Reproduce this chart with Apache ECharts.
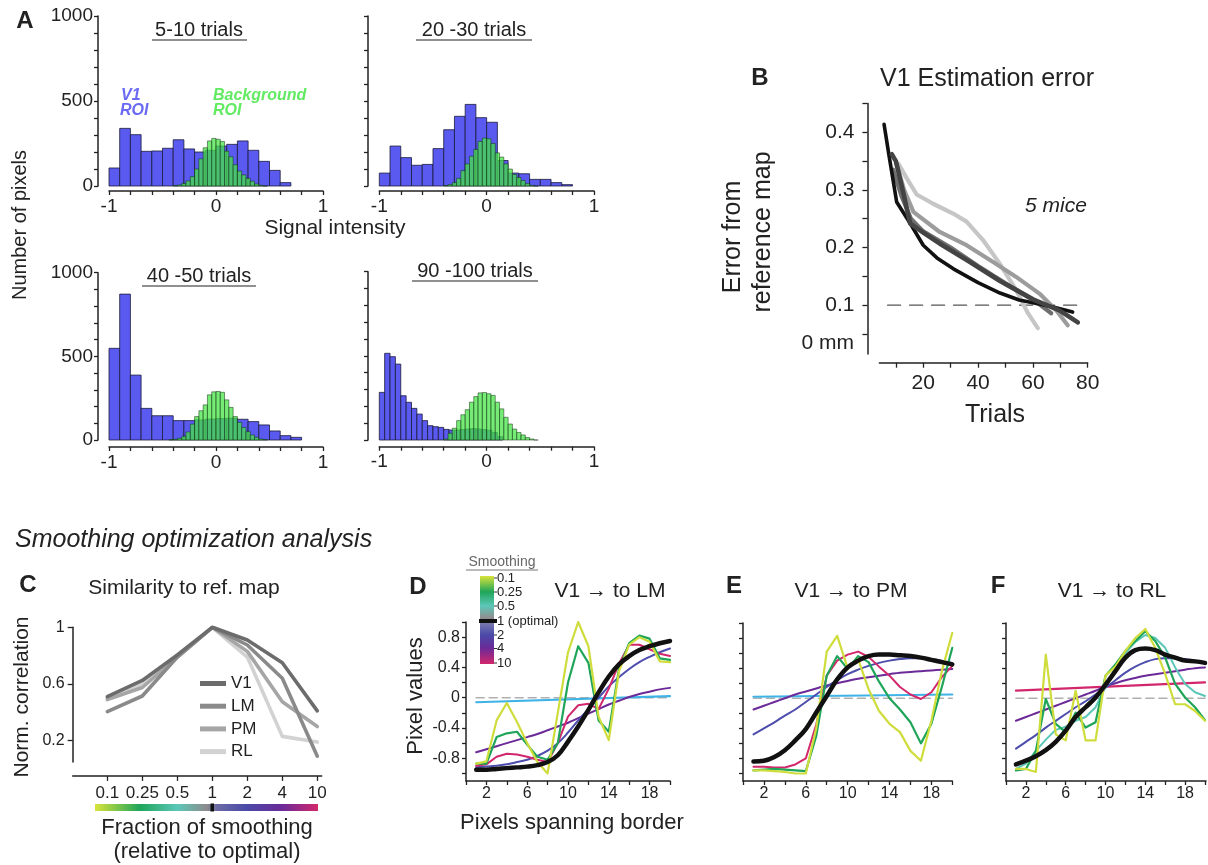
<!doctype html>
<html lang="en">
<head>
<meta charset="utf-8">
<title>Map estimation and smoothing optimization</title>
<script src="https://cdn.jsdelivr.net/npm/echarts@6/dist/echarts.min.js"></script>
<style>
  html, body { margin: 0; padding: 0; background: #fff; }
  #main { width: 1208px; height: 865px; }
</style>
</head>
<body>
<div id="main"></div>
<script>
// ---- data ----
// A: histograms (bin start, bin width, counts)
var blueStart = -1, blueWidth = 0.1;
var greenWidth = 0.04;
var v1Trials5to10 = [106, 339, 302, 204, 206, 222, 272, 218, 200, 210, 235, 245, 265, 210, 145, 92, 20];
var bgTrials5to10 = [2, 6, 15, 30, 55, 100, 160, 225, 265, 280, 275, 262, 205, 172, 125, 88, 65, 45, 28, 12, 4, 0];
var v1Trials20to30 = [76, 235, 167, 122, 127, 220, 331, 410, 480, 402, 375, 150, 76, 72, 39, 39, 20, 8];
var bgTrials20to30 = [3, 8, 20, 45, 90, 130, 175, 215, 262, 282, 278, 250, 195, 170, 130, 100, 68, 50, 32, 14, 4, 0];
var v1Trials40to50 = [548, 872, 388, 189, 145, 145, 116, 116, 120, 125, 128, 130, 124, 110, 90, 54, 26, 16];
var bgTrials40to50 = [2, 4, 10, 22, 48, 95, 140, 175, 210, 270, 288, 290, 285, 240, 195, 140, 105, 75, 50, 30, 16, 6, 2];
var v1Trials90to100 = [283, 515, 495, 451, 263, 224, 188, 154, 115, 85, 79, 75, 63, 59, 59, 62, 65, 68, 65, 62, 58, 45, 20];
var bgTrials90to100 = [5, 40, 70, 115, 150, 180, 225, 258, 280, 282, 275, 265, 225, 185, 135, 95, 65, 45, 30, 15, 6, 0];

// B: estimation error per mouse
var mouse1Trials = [5.7, 7.5, 10.3, 15.2, 20, 25, 31, 40, 48, 55, 60, 67, 74.5];
var mouse1Error = [0.414, 0.36, 0.279, 0.242, 0.204, 0.182, 0.163, 0.139, 0.121, 0.109, 0.104, 0.097, 0.088];
var mouse2Trials = [8.5, 10, 12.5, 15.2, 20, 27, 36, 48, 60, 69.7, 76.4];
var mouse2Error = [0.362, 0.35, 0.3, 0.242, 0.226, 0.204, 0.178, 0.142, 0.11, 0.091, 0.07];
var mouse3Trials = [9, 12, 15.5, 20, 30, 40, 50, 60, 66.7];
var mouse3Error = [0.335, 0.29, 0.25, 0.228, 0.2, 0.168, 0.138, 0.11, 0.086];
var mouse4Trials = [10.3, 13, 16.4, 26, 35.8, 45.5, 53.9, 62.4, 68.5, 72.7];
var mouse4Error = [0.345, 0.3, 0.262, 0.227, 0.204, 0.175, 0.149, 0.12, 0.091, 0.065];
var mouse5Trials = [11, 14, 17.6, 23.6, 30.9, 35.8, 41.8, 47.9, 53.9, 58.2, 61.8];
var mouse5Error = [0.345, 0.32, 0.292, 0.276, 0.259, 0.245, 0.213, 0.172, 0.126, 0.086, 0.06];
var refTrials = [7, 79];
var refError = [0.1, 0.1];

// C: similarity to reference map
var smoothCats = ['0.1', '0.25', '0.5', '1', '2', '4', '10'];
var simV1 = [0.51, 0.625, 0.805, 1.0, 0.91, 0.75, 0.41];
var simLM = [0.405, 0.515, 0.79, 1.0, 0.875, 0.64, 0.09];
var simPM = [0.49, 0.575, 0.79, 1.0, 0.83, 0.475, 0.3];
var simRL = [0.5, 0.6, 0.8, 1.0, 0.79, 0.23, 0.19];

// D-F: pixel values across the border
var pixelX = [1, 2, 3, 4, 5, 6, 7, 8, 9, 10, 11, 12, 13, 14, 15, 16, 17, 18, 19, 20];
var lmS01 = [-0.87, -0.84, -0.3, -0.07, -0.32, -0.6, -0.85, -1.0, -0.2, 0.6, 1.0, 0.68, -0.25, -0.56, 0.35, 0.7, 0.8, 0.74, 0.48, 0.47];
var lmS025 = [-0.87, -0.87, -0.52, -0.47, -0.45, -0.62, -0.78, -0.82, -0.6, 0.2, 0.68, 0.46, -0.3, -0.45, 0.38, 0.72, 0.82, 0.78, 0.52, 0.5];
var lmS1 = [-0.95, -0.95, -0.94, -0.93, -0.92, -0.91, -0.89, -0.85, -0.76, -0.58, -0.38, -0.16, 0.07, 0.28, 0.44, 0.55, 0.63, 0.68, 0.72, 0.75];
var lmS2 = [-0.92, -0.91, -0.9, -0.88, -0.85, -0.82, -0.77, -0.7, -0.6, -0.46, -0.3, -0.15, 0.0, 0.15, 0.27, 0.38, 0.47, 0.54, 0.6, 0.65];
var lmS4 = [-0.72, -0.68, -0.64, -0.6, -0.56, -0.52, -0.48, -0.43, -0.38, -0.33, -0.27, -0.21, -0.15, -0.09, -0.04, 0.01, 0.05, 0.08, 0.11, 0.13];
var lmS10 = [-0.9, -0.88, -0.78, -0.74, -0.75, -0.78, -0.82, -0.85, -0.6, -0.25, -0.1, -0.08, -0.15, 0.12, 0.45, 0.7, 0.7, 0.64, 0.58, 0.55];
var lmFlatX = [1, 20], lmFlat = [-0.06, 0.02];

var pmS01 = [-0.96, -0.96, -0.97, -0.98, -1.0, -1.0, -0.4, 0.62, 0.83, 0.4, 0.52, 0.12, -0.17, -0.34, -0.45, -0.7, -0.83, -0.3, 0.36, 0.87];
var pmS025 = [-0.96, -0.95, -0.94, -0.95, -0.96, -0.97, -0.5, 0.3, 0.56, 0.39, 0.56, 0.48, 0.22, 0.0, -0.15, -0.32, -0.6, -0.34, 0.15, 0.67];
var pmS1 = [-0.84, -0.83, -0.78, -0.69, -0.56, -0.41, -0.19, 0.03, 0.25, 0.41, 0.5, 0.56, 0.58, 0.58, 0.57, 0.56, 0.54, 0.51, 0.48, 0.45];
var pmS2 = [-0.48, -0.4, -0.32, -0.23, -0.15, -0.05, 0.05, 0.15, 0.24, 0.32, 0.38, 0.43, 0.47, 0.5, 0.52, 0.53, 0.53, 0.52, 0.5, 0.47];
var pmS4 = [-0.15, -0.1, -0.05, 0.0, 0.05, 0.09, 0.13, 0.17, 0.2, 0.23, 0.26, 0.28, 0.3, 0.32, 0.34, 0.35, 0.36, 0.37, 0.38, 0.39];
var pmS10 = [-0.91, -0.91, -0.92, -0.92, -0.88, -0.8, -0.35, 0.3, 0.5, 0.58, 0.62, 0.55, 0.42, 0.3, 0.15, 0.05, -0.01, 0.08, 0.28, 0.43];
var pmFlatX = [1, 20], pmFlat = [0.02, 0.05];

var rlS01 = [-0.94, -0.94, -0.98, 0.58, -0.48, -0.56, 0.1, -0.56, -0.56, 0.3, 0.42, 0.63, 0.8, 0.92, 0.67, 0.32, -0.08, -0.08, -0.17, -0.3];
var rlS025 = [-0.96, -0.94, -0.7, -0.01, -0.34, -0.45, -0.19, -0.39, -0.32, 0.3, 0.45, 0.63, 0.76, 0.89, 0.76, 0.54, 0.19, 0.01, -0.12, -0.29];
var rlS05 = [-0.94, -0.87, -0.7, -0.55, -0.42, -0.38, -0.3, -0.25, -0.12, 0.15, 0.41, 0.6, 0.75, 0.84, 0.8, 0.67, 0.41, 0.19, 0.08, 0.03];
var rlS1 = [-0.88, -0.83, -0.77, -0.69, -0.58, -0.43, -0.25, -0.12, 0.01, 0.18, 0.36, 0.54, 0.64, 0.66, 0.64, 0.58, 0.54, 0.5, 0.49, 0.47];
var rlS2 = [-0.67, -0.58, -0.49, -0.39, -0.3, -0.21, -0.12, -0.04, 0.05, 0.14, 0.24, 0.34, 0.42, 0.48, 0.52, 0.53, 0.53, 0.52, 0.5, 0.47];
var rlS4 = [-0.3, -0.25, -0.2, -0.15, -0.1, -0.05, 0.0, 0.05, 0.1, 0.16, 0.2, 0.24, 0.27, 0.3, 0.32, 0.34, 0.36, 0.38, 0.4, 0.41];
var rlFlatX = [1, 20], rlS10 = [0.1, 0.21];
var zeroX = [1, 20], zeroY = [0, 0];

var smoothLabels = ['0.1', '0.25', '0.5', '1 (optimal)', '2', '4', '10'];
var smoothColors = ['#cfdd3c', '#1fa55a', '#5cc7b8', '#111111', '#4d4dad', '#6b2a98', '#d2276c'];
var flatBlue = '#3fb3e6';

// ---- helpers ----
var FONT = '"Liberation Sans", Arial, sans-serif';
var INK = '#222';

function bins(start, width, counts) {
  return counts.map(function (c, i) { return [start + i * width, start + (i + 1) * width, c]; });
}
function pairs(xs, ys) {
  return xs.map(function (x, i) { return [x, ys[i]]; });
}
function renderBin(fill, stroke, lw) {
  return function (params, api) {
    var a = api.coord([api.value(0), api.value(2)]);
    var b = api.coord([api.value(1), 0]);
    return { type: 'rect', shape: { x: a[0], y: a[1], width: b[0] - a[0], height: b[1] - a[1] },
             style: { fill: fill, stroke: stroke, lineWidth: lw } };
  };
}
function histSeries(idx, start, width, counts, green) {
  return {
    type: 'custom', xAxisIndex: idx, yAxisIndex: idx, silent: true,
    renderItem: green ? renderBin('rgba(70,228,70,0.74)', 'rgba(15,50,15,0.85)', 0.6)
                      : renderBin('#5a5af0', '#1a1a3a', 0.8),
    encode: { x: [0, 1], y: 2 },
    data: bins(start, width, counts)
  };
}
function lineSeries(idx, name, xs, ys, color, width, smooth, dash) {
  return {
    type: 'line', name: name, xAxisIndex: idx, yAxisIndex: idx, data: pairs(xs, ys),
    showSymbol: false, symbol: 'none', smooth: smooth || false, silent: true,
    lineStyle: { color: color, width: width, type: dash || 'solid', cap: 'round', join: 'round' },
    itemStyle: { color: color }
  };
}
function axisBase() {
  return {
    type: 'value',
    axisLine: { show: true, onZero: false, lineStyle: { color: INK, width: 1.5 } },
    axisTick: { show: true, length: 4, lineStyle: { color: INK, width: 1.3 } },
    axisLabel: { color: INK, fontFamily: FONT },
    splitLine: { show: false }
  };
}
function mk(extra) {
  var a = axisBase();
  for (var k in extra) {
    if (typeof extra[k] === 'object' && a[k] && !Array.isArray(extra[k])) {
      for (var j in extra[k]) a[k][j] = extra[k][j];
    } else a[k] = extra[k];
  }
  return a;
}

// ---- grids ----
var grids = [
  { left: 109, top: 16, width: 214, height: 170 },      // A 5-10
  { left: 379.3, top: 16, width: 214.7, height: 170 },  // A 20-30
  { left: 109, top: 272.7, width: 214, height: 167.3 }, // A 40-50
  { left: 379.3, top: 271.7, width: 214.7, height: 168.3 }, // A 90-100
  { left: 879.4, top: 103.5, width: 208.3, height: 250.6 }, // B
  { left: 72.7, top: 627.3, width: 249, height: 134.6 },    // C
  { left: 466, top: 622, width: 204, height: 159 },          // D
  { left: 743, top: 623, width: 209.3, height: 158 },        // E
  { left: 1006, top: 623, width: 200, height: 158 }          // F
].map(function (g) { g.outerBoundsMode = 'none'; g.containLabel = false; return g; });

var histXTicks = [-1, -0.8, -0.6, -0.4, -0.2, 0, 0.2, 0.4, 0.6, 0.8, 1];
var histYTicks = [0, 100, 200, 300, 400, 500, 600, 700, 800, 900, 1000];
var borderYTicks = [-1, -0.8, -0.6, -0.4, -0.2, 0, 0.2, 0.4, 0.6, 0.8, 1];
var borderXTicks = [0, 2, 4, 6, 8, 10, 12, 14, 16, 18, 20];

var xAxes = [], yAxes = [];
[[5, 5], [5, 5], [7, 7], [6.7, 7]].forEach(function (o, i) {
  xAxes.push(mk({ gridIndex: i, min: -1, max: 1, offset: o[0],
    axisTick: { customValues: histXTicks },
    axisLabel: { customValues: [-1, 0, 1], fontSize: 19, margin: 6,
      formatter: function (v) { return String(v); } } }));
  yAxes.push(mk({ gridIndex: i, min: 0, max: 1000, offset: i % 2 === 0 ? 11 : 11.3,
    axisTick: { customValues: histYTicks },
    axisLabel: { show: i % 2 === 0, customValues: [0, 500, 1000], fontSize: 19, margin: 5,
      formatter: function (v) { return String(v); } } }));
});
// B
xAxes.push(mk({ gridIndex: 4, min: 4, max: 80, offset: 8.6,
  axisTick: { customValues: [10, 20, 30, 40, 50, 60, 70, 80], length: 5 },
  axisLabel: { customValues: [20, 40, 60, 80], fontSize: 21, margin: 10 } }));
yAxes.push(mk({ gridIndex: 4, min: 0.015, max: 0.45, offset: 12,
  axisTick: { customValues: [0.05, 0.1, 0.15, 0.2, 0.25, 0.3, 0.35, 0.4, 0.45], length: 5 },
  axisLabel: { customValues: [0.1, 0.2, 0.3, 0.4], fontSize: 21, margin: 13,
    formatter: function (v) { return v.toFixed(1); } } }));
// C
xAxes.push(mk({ gridIndex: 5, min: -0.99, max: 6.126, offset: 14,
  axisTick: { customValues: [0, 1, 2, 3, 4, 5, 6], length: 5 },
  axisLabel: { customValues: [0, 1, 2, 3, 4, 5, 6], fontSize: 17, margin: 9,
    formatter: function (v) { return smoothCats[Math.round(v)]; } } }));
yAxes.push(mk({ gridIndex: 5, min: 0.05, max: 1,
  axisTick: { customValues: [0.2, 0.6, 1], length: 5 },
  axisLabel: { customValues: [0.2, 0.6, 1], fontSize: 16, margin: 8,
    formatter: function (v) { return v === 1 ? '1' : v.toFixed(1); } } }));
// D, E, F
[[6, 20], [7, 20], [8, 20.1]].forEach(function (p) {
  xAxes.push(mk({ gridIndex: p[0], min: 0, max: p[1],
    axisTick: { customValues: borderXTicks, length: 4 },
    axisLabel: { customValues: [2, 6, 10, 14, 18], fontSize: 16, margin: 5 } }));
  yAxes.push(mk({ gridIndex: p[0], min: -1.1, max: 1,
    axisTick: { customValues: borderYTicks, length: 4 },
    axisLabel: { show: p[0] === 6, customValues: [-0.8, -0.4, 0, 0.4, 0.8], fontSize: 16, margin: 6,
      formatter: function (v) { return v === 0 ? '0' : v.toFixed(1); } } }));
});

// ---- series ----
var series = [
  histSeries(0, blueStart, blueWidth, v1Trials5to10, false),
  histSeries(0, -0.4, greenWidth, bgTrials5to10, true),
  histSeries(1, blueStart, blueWidth, v1Trials20to30, false),
  histSeries(1, -0.4, greenWidth, bgTrials20to30, true),
  histSeries(2, blueStart, blueWidth, v1Trials40to50, false),
  histSeries(2, -0.44, greenWidth, bgTrials40to50, true),
  histSeries(3, blueStart, 0.05, v1Trials90to100, false),
  histSeries(3, -0.4, greenWidth, bgTrials90to100, true),

  lineSeries(4, 'ref', refTrials, refError, '#555', 1.3, false, [13, 9]),
  lineSeries(4, 'm5', mouse5Trials, mouse5Error, '#c6c6c6', 4.2),
  lineSeries(4, 'm4', mouse4Trials, mouse4Error, '#9c9c9c', 4.2),
  lineSeries(4, 'm3', mouse3Trials, mouse3Error, '#6e6e6e', 4.2),
  lineSeries(4, 'm1', mouse1Trials, mouse1Error, '#111', 3.6),
  lineSeries(4, 'm2', mouse2Trials, mouse2Error, '#444', 4.6),

  lineSeries(5, 'RL', [0, 1, 2, 3, 4, 5, 6], simRL, '#d2d2d2', 3.6),
  lineSeries(5, 'PM', [0, 1, 2, 3, 4, 5, 6], simPM, '#a6a6a6', 3.6),
  lineSeries(5, 'LM', [0, 1, 2, 3, 4, 5, 6], simLM, '#8a8a8a', 3.6),
  lineSeries(5, 'V1', [0, 1, 2, 3, 4, 5, 6], simV1, '#6c6c6c', 3.6),

  lineSeries(6, 'd0', zeroX, zeroY, '#b0b0b0', 1.6, false, [8, 5]),
  lineSeries(6, 'dflat', lmFlatX, lmFlat, flatBlue, 2.2),
  lineSeries(6, 'd4', pixelX, lmS4, smoothColors[5], 2, 0.4),
  lineSeries(6, 'd2', pixelX, lmS2, smoothColors[4], 2, 0.4),
  lineSeries(6, 'd10', pixelX, lmS10, smoothColors[6], 2),
  lineSeries(6, 'd025', pixelX, lmS025, smoothColors[1], 2.2),
  lineSeries(6, 'd01', pixelX, lmS01, smoothColors[0], 2.2),
  lineSeries(6, 'd1', pixelX, lmS1, smoothColors[3], 4.5, 0.4),

  lineSeries(7, 'e0', zeroX, zeroY, '#b0b0b0', 1.6, false, [8, 5]),
  lineSeries(7, 'eflat', pmFlatX, pmFlat, flatBlue, 2.2),
  lineSeries(7, 'e4', pixelX, pmS4, smoothColors[5], 2, 0.4),
  lineSeries(7, 'e2', pixelX, pmS2, smoothColors[4], 2, 0.4),
  lineSeries(7, 'e10', pixelX, pmS10, smoothColors[6], 2),
  lineSeries(7, 'e025', pixelX, pmS025, smoothColors[1], 2.2),
  lineSeries(7, 'e01', pixelX, pmS01, smoothColors[0], 2.2),
  lineSeries(7, 'e1', pixelX, pmS1, smoothColors[3], 4.5, 0.4),

  lineSeries(8, 'f0', zeroX, zeroY, '#b0b0b0', 1.6, false, [8, 5]),
  lineSeries(8, 'f10', rlFlatX, rlS10, smoothColors[6], 2.2),
  lineSeries(8, 'f4', pixelX, rlS4, smoothColors[5], 2, 0.4),
  lineSeries(8, 'f2', pixelX, rlS2, smoothColors[4], 2, 0.4),
  lineSeries(8, 'f05', pixelX, rlS05, smoothColors[2], 2),
  lineSeries(8, 'f025', pixelX, rlS025, smoothColors[1], 2.2),
  lineSeries(8, 'f01', pixelX, rlS01, smoothColors[0], 2.2),
  lineSeries(8, 'f1', pixelX, rlS1, smoothColors[3], 4.5, 0.4)
];

// ---- texts and decorations ----
function txt(t, x, y, size, o) {
  o = o || {};
  return {
    type: 'text', x: x, y: y, rotation: o.rot || 0, silent: true, z: 100,
    style: { text: t, fill: o.color || INK, fontFamily: FONT, fontSize: size,
             fontWeight: o.weight || 'normal', fontStyle: o.style || 'normal',
             align: o.align || 'center', verticalAlign: 'middle', lineHeight: o.lh }
  };
}
function rule(x1, x2, y, color, w) {
  return { type: 'line', silent: true, z: 100, shape: { x1: x1, y1: y, x2: x2, y2: y },
           style: { stroke: color || INK, lineWidth: w || 1.2 } };
}
var hGrad = new echarts.graphic.LinearGradient(0, 0, 1, 0, [
  { offset: 0, color: '#d9e43a' }, { offset: 0.2, color: '#1fa55a' }, { offset: 0.37, color: '#5cc7b8' },
  { offset: 0.5, color: '#8c8c8c' }, { offset: 0.55, color: '#6a6aa6' }, { offset: 0.68, color: '#4a4aa8' },
  { offset: 0.84, color: '#6b2a98' }, { offset: 1, color: '#d2276c' }]);
var vGrad = new echarts.graphic.LinearGradient(0, 0, 0, 1, [
  { offset: 0, color: '#d9e43a' }, { offset: 0.18, color: '#1fa55a' }, { offset: 0.34, color: '#5cc7b8' },
  { offset: 0.47, color: '#909090' }, { offset: 0.56, color: '#7070b0' }, { offset: 0.67, color: '#4a4aa8' },
  { offset: 0.82, color: '#6b2a98' }, { offset: 1, color: '#d2276c' }]);

var graphics = [
  txt('A', 25, 21, 24, { weight: 'bold' }),
  txt('5-10 trials', 199, 30, 20), rule(152, 247, 40),
  txt('20 -30 trials', 474, 30, 20), rule(416, 532, 40),
  txt('40 -50 trials', 199, 276, 20), rule(142, 256, 286),
  txt('90 -100 trials', 475, 271, 20), rule(412, 538, 281),
  txt('V1', 121, 96, 16, { align: 'left', weight: 'bold', style: 'italic', color: '#6a6af2' }),
  txt('ROI', 120, 111, 16, { align: 'left', weight: 'bold', style: 'italic', color: '#6a6af2' }),
  txt('Background', 213, 96, 16, { align: 'left', weight: 'bold', style: 'italic', color: '#62ea62' }),
  txt('ROI', 213, 111, 16, { align: 'left', weight: 'bold', style: 'italic', color: '#62ea62' }),
  txt('Number of pixels', 20, 225, 20, { rot: Math.PI / 2 }),
  txt('Signal intensity', 335, 228, 21),

  txt('B', 760, 78, 24, { weight: 'bold' }),
  txt('V1 Estimation error', 987, 79, 25),
  txt('5 mice', 1056, 206, 21, { style: 'italic' }),
  txt('0 mm', 854, 343, 21, { align: 'right' }),
  txt('Error from', 733, 237, 25, { rot: Math.PI / 2 }),
  txt('reference map', 763, 232, 25, { rot: Math.PI / 2 }),
  txt('Trials', 995, 415, 25),

  txt('Smoothing optimization analysis', 15, 540, 25, { align: 'left', style: 'italic' }),
  txt('C', 28, 585, 24, { weight: 'bold' }),
  txt('Similarity to ref. map', 184, 588, 21),
  txt('Norm. correlation', 22, 697, 21, { rot: Math.PI / 2 }),
  { type: 'rect', silent: true, shape: { x: 95, y: 804, width: 223, height: 7 }, style: { fill: hGrad } },
  { type: 'rect', silent: true, z: 101, shape: { x: 210.5, y: 803.5, width: 3.5, height: 8 }, style: { fill: '#111' } },
  txt('Fraction of smoothing', 207, 828, 22),
  txt('(relative to optimal)', 207, 852, 22),

  txt('Smoothing', 502, 562, 14, { color: '#666' }), rule(466, 538, 570, '#777', 1),
  { type: 'rect', silent: true, shape: { x: 480, y: 576, width: 14, height: 88 }, style: { fill: vGrad } },
  { type: 'rect', silent: true, z: 101, shape: { x: 479, y: 619, width: 18, height: 4 }, style: { fill: '#111' } },
  txt('D', 418, 587, 24, { weight: 'bold' }),
  txt('V1 \u2192 to LM', 610, 591, 21),
  txt('Pixel values', 416, 696, 22, { rot: Math.PI / 2 }),
  txt('Pixels spanning border', 572, 823, 22),
  txt('E', 734, 586, 24, { weight: 'bold' }),
  txt('V1 \u2192 to PM', 851, 591, 21),
  txt('F', 998, 586, 24, { weight: 'bold' }),
  txt('V1 \u2192 to RL', 1112, 591, 21)
];
var legendY = [578, 592, 606, 621, 635, 648.5, 663];
smoothLabels.forEach(function (lab, i) {
  graphics.push(txt(lab, 497, legendY[i], 13, { align: 'left' }));
  graphics.push(rule(494, 497, legendY[i], '#333', 1));
});

var chart = echarts.init(document.getElementById('main'), null, { renderer: 'canvas' });
chart.setOption({
  animation: false,
  backgroundColor: '#fff',
  textStyle: { fontFamily: FONT },
  grid: grids,
  xAxis: xAxes,
  yAxis: yAxes,
  legend: {
    data: ['V1', 'LM', 'PM', 'RL'], orient: 'vertical', left: 200, top: 675,
    icon: 'rect', itemWidth: 26, itemHeight: 5, itemGap: 5.7, padding: 0,
    textStyle: { fontSize: 17, color: INK, fontFamily: FONT, lineHeight: 16 },
    selectedMode: false
  },
  series: series,
  graphic: graphics
});
window.addEventListener('resize', chart.resize);
</script>
</body>
</html>
